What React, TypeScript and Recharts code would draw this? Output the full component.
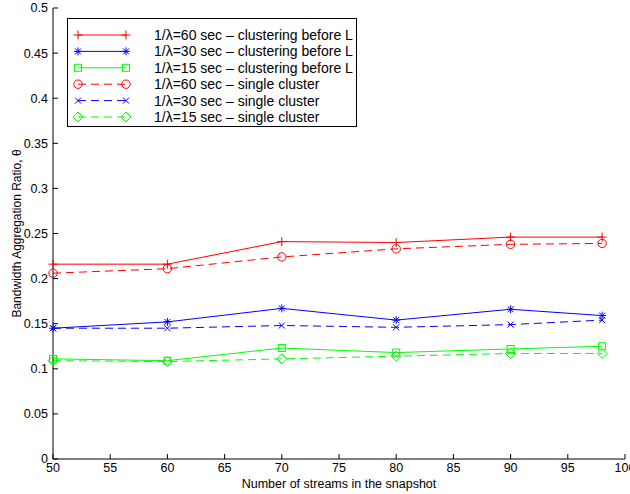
import { LineChart, Line, XAxis, YAxis, Label } from 'recharts';

// x positions (number of streams)
const streams = [50, 60, 70, 80, 90, 98];

// clustering before L
const before60 = [0.216, 0.216, 0.241, 0.240, 0.246, 0.246];
const before30 = [0.145, 0.152, 0.167, 0.154, 0.166, 0.159];
const before15 = [0.111, 0.109, 0.123, 0.118, 0.122, 0.125];
// single cluster
const single60 = [0.206, 0.211, 0.224, 0.233, 0.238, 0.239];
const single30 = [0.145, 0.145, 0.148, 0.146, 0.149, 0.154];
const single15 = [0.109, 0.108, 0.111, 0.114, 0.117, 0.117];

const xTicks = [50, 55, 60, 65, 70, 75, 80, 85, 90, 95, 100];
const yTicks = [0, 0.05, 0.1, 0.15, 0.2, 0.25, 0.3, 0.35, 0.4, 0.45, 0.5];

const series = [
  { key: 'b60', name: '1/\u03bb=60 sec \u2013 clustering before L', values: before60, color: '#ff0000', shape: 'plus', dashed: false },
  { key: 'b30', name: '1/\u03bb=30 sec \u2013 clustering before L', values: before30, color: '#0000ff', shape: 'star', dashed: false },
  { key: 'b15', name: '1/\u03bb=15 sec \u2013 clustering before L', values: before15, color: '#00ff00', shape: 'square', dashed: false },
  { key: 's60', name: '1/\u03bb=60 sec \u2013 single cluster', values: single60, color: '#ff0000', shape: 'circle', dashed: true },
  { key: 's30', name: '1/\u03bb=30 sec \u2013 single cluster', values: single30, color: '#0000ff', shape: 'cross', dashed: true },
  { key: 's15', name: '1/\u03bb=15 sec \u2013 single cluster', values: single15, color: '#00ff00', shape: 'diamond', dashed: true },
];

const data = streams.map((x, i) => {
  const row: Record<string, number> = { x };
  series.forEach((s) => { row[s.key] = s.values[i]; });
  return row;
});

const FONT = '"Liberation Sans", Arial, Helvetica, sans-serif';
const DASH = '8 5';

function Marker({ shape, cx, cy, color }: { shape: string; cx: number; cy: number; color: string }) {
  const p = { stroke: color, fill: 'none', strokeWidth: 1 };
  switch (shape) {
    case 'plus':
      return <path {...p} d={`M${cx - 4.5},${cy}H${cx + 4.5}M${cx},${cy - 4.5}V${cy + 4.5}`} />;
    case 'star':
      return (
        <path
          {...p}
          d={`M${cx - 4},${cy}H${cx + 4}M${cx},${cy - 4}V${cy + 4}M${cx - 3},${cy - 3}L${cx + 3},${cy + 3}M${cx - 3},${cy + 3}L${cx + 3},${cy - 3}`}
        />
      );
    case 'square':
      return <rect {...p} x={cx - 3.5} y={cy - 3.5} width={7} height={7} />;
    case 'circle':
      return <circle {...p} cx={cx} cy={cy} r={4.2} />;
    case 'cross':
      return <path {...p} d={`M${cx - 3},${cy - 3}L${cx + 3},${cy + 3}M${cx - 3},${cy + 3}L${cx + 3},${cy - 3}`} />;
    case 'diamond':
      return <path {...p} d={`M${cx},${cy - 5}L${cx + 5},${cy}L${cx},${cy + 5}L${cx - 5},${cy}Z`} />;
    default:
      return null;
  }
}

function LegendBox() {
  return (
    <svg width={291} height={110} style={{ position: 'absolute', left: 67, top: 18 }}>
      <rect x={0.5} y={0.5} width={289} height={108} fill="#fff" stroke="#000" />
      {series.map((s, i) => {
        const y = 17 + i * 16.4;
        return (
          <g key={s.key}>
            <line x1={11} x2={59} y1={y} y2={y} stroke={s.color} strokeDasharray={s.dashed ? DASH : undefined} />
            <Marker shape={s.shape} cx={11} cy={y} color={s.color} />
            <Marker shape={s.shape} cx={59} cy={y} color={s.color} />
            <text x={87} y={y + 5} fontSize={14} fontFamily={FONT} fill="#000">
              {s.name}
            </text>
          </g>
        );
      })}
    </svg>
  );
}

const tickStyle = { fill: '#000', fontSize: 12.5, fontFamily: FONT };

export default function App() {
  return (
    <div style={{ position: 'absolute', left: 0, top: 0, width: 630, height: 494, background: '#fff' }}>
      <LineChart width={630} height={494} data={data} margin={{ top: 8, right: 5, bottom: 0, left: 0 }}>
        <XAxis
          xAxisId="bottom"
          dataKey="x"
          type="number"
          domain={[50, 100]}
          ticks={xTicks}
          height={35}
          stroke="#000"
          tickSize={-5}
          tickMargin={9}
          tick={tickStyle}
          interval={0}
        >
          <Label
            value="Number of streams in the snapshot"
            position="insideBottom"
            offset={6}
            style={{ fill: '#000', fontSize: 12.5, fontFamily: FONT }}
          />
        </XAxis>
        <XAxis
          xAxisId="top"
          orientation="top"
          dataKey="x"
          type="number"
          domain={[50, 100]}
          ticks={xTicks}
          height={0}
          stroke="#000"
          tickSize={-5}
          tickFormatter={() => ''}
          interval={0}
        />
        <YAxis
          yAxisId="left"
          type="number"
          domain={[0, 0.5]}
          ticks={yTicks}
          width={53}
          stroke="#000"
          tickSize={-5}
          tickMargin={10}
          tick={tickStyle}
          interval={0}
        >
          <Label
            value={'Bandwidth Aggregation Ratio, \u03b8'}
            angle={-90}
            position="center"
            dx={-10}
            style={{ fill: '#000', fontSize: 12, fontFamily: FONT, textAnchor: 'middle' }}
          />
        </YAxis>
        <YAxis
          yAxisId="right"
          orientation="right"
          type="number"
          domain={[0, 0.5]}
          ticks={yTicks}
          width={0}
          stroke="#000"
          tickSize={-5}
          tickFormatter={() => ''}
          interval={0}
        />
        {series.map((s) => (
          <Line
            key={s.key}
            xAxisId={s.dashed ? 'top' : 'bottom'}
            yAxisId={s.dashed ? 'right' : 'left'}
            dataKey={s.key}
            name={s.name}
            type="linear"
            stroke={s.color}
            strokeWidth={1}
            strokeDasharray={s.dashed ? DASH : undefined}
            isAnimationActive={false}
            activeDot={false}
            dot={(p: any) => <Marker key={`${s.key}-${p.index}`} shape={s.shape} cx={p.cx} cy={p.cy} color={s.color} />}
          />
        ))}
      </LineChart>
      <LegendBox />
    </div>
  );
}
